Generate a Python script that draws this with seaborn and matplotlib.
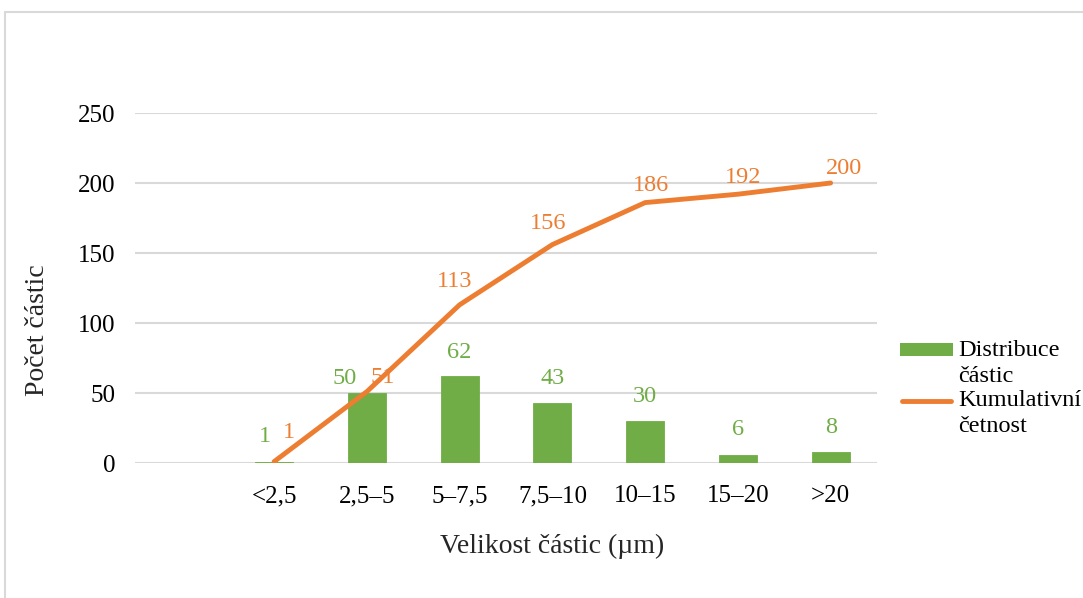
import matplotlib
matplotlib.use("Agg")
import matplotlib.pyplot as plt
import seaborn as sns
import pandas as pd
from matplotlib.patches import Rectangle
from matplotlib.lines import Line2D

# Size classes (the first slot on the axis is left empty)
slots = ["", "<2,5", "2,5–5", "5–7,5", "7,5–10", "10–15", "15–20", ">20"]
classes = ["<2,5", "2,5–5", "5–7,5", "7,5–10", "10–15", "15–20", ">20"]
distribution = [1, 50, 62, 43, 30, 6, 8]
cumulative = [1, 51, 113, 156, 186, 192, 200]
legend_lines = ["Distribuce", "částic", "Kumulativní", "četnost"]

GREEN = "#70AD47"
ORANGE = "#ED7D31"
GRID = "#D9D9D9"
W, H = 1083, 598

sns.set_theme(style="white")
plt.rcParams["font.family"] = ["Liberation Serif", "DejaVu Serif"]

fig = plt.figure(figsize=(W / 100, H / 100), dpi=100)
ax = fig.add_axes([135 / W, 1 - 463 / H, (877 - 135) / W, (463 - 113) / H])

df = pd.DataFrame({"class": classes, "count": distribution})
sns.barplot(data=df, x="class", y="count", order=slots, color=GREEN,
            width=0.41, saturation=1, ax=ax, zorder=2,
            edgecolor=GREEN, linewidth=0.6)

xpos = [slots.index(c) for c in classes]
sns.lineplot(x=xpos, y=cumulative, color=ORANGE, linewidth=3.5, ax=ax,
             zorder=3, solid_capstyle="round")

ax.set_xlim(-0.5, len(slots) - 0.5)
ax.set_ylim(0, 250)
ax.set_yticks(range(0, 251, 50))
ax.yaxis.grid(True, color=GRID, linewidth=1.5)
ax.set_axisbelow(True)
for s in ax.spines.values():
    s.set_visible(False)
ax.tick_params(axis="both", length=0, labelsize=18, colors="black")
ax.tick_params(axis="x", pad=16)
ax.tick_params(axis="y", pad=14)
ax.set_xticks(range(len(slots)))
ax.set_xticklabels(slots)

ax.set_xlabel("Velikost částic (µm)", fontsize=20)
ax.set_ylabel("Počet částic", fontsize=20)
ax.xaxis.label.set_va("center")
ax.yaxis.label.set_va("center")
ax.xaxis.set_label_coords((552 - 135) / 742, (463 - 546) / 350)
ax.yaxis.set_label_coords((37 - 135) / 742, (463 - 330) / 350)

# Value labels for the bars (offsets in pixels)
bar_offsets = [(-9, 25), (-22, 15), (0, 24), (0, 24), (0, 24), (0, 25), (0, 24)]
for x, v, off in zip(xpos, distribution, bar_offsets):
    ax.annotate(str(v), (x, v), xytext=off, textcoords="offset pixels",
                ha="center", va="center", fontsize=17.5, color=GREEN)

# Value labels for the cumulative line
line_offsets = [(15, 29), (16, 14), (-5, 23), (-4, 21), (6, 17), (5, 17), (13, 14)]
for x, v, off in zip(xpos, cumulative, line_offsets):
    ax.annotate(str(v), (x, v), xytext=off, textcoords="offset pixels",
                ha="center", va="center", fontsize=17.5, color=ORANGE)

# Legend keys and their two-line labels
fig.add_artist(Rectangle((900 / W, 1 - 356 / H), 53 / W, 13 / H,
                         transform=fig.transFigure, facecolor=GREEN,
                         edgecolor="none"))
fig.add_artist(Line2D([902 / W, 951 / W], [1 - 401 / H, 1 - 401 / H],
                      transform=fig.transFigure, color=ORANGE, linewidth=3.5,
                      solid_capstyle="round"))
for text, y in zip(legend_lines, [350, 376, 401, 427]):
    fig.text(958 / W, 1 - y / H, text, ha="left", va="center",
             fontsize=17.5, color="black")

# Light outer frame of the chart area
fig.add_artist(Rectangle((5 / W, -0.1), 1.2, 0.1 + 1 - 12 / H,
                         transform=fig.transFigure, fill=False,
                         edgecolor=GRID, linewidth=1.5))

fig.savefig("out.png", dpi=100)
